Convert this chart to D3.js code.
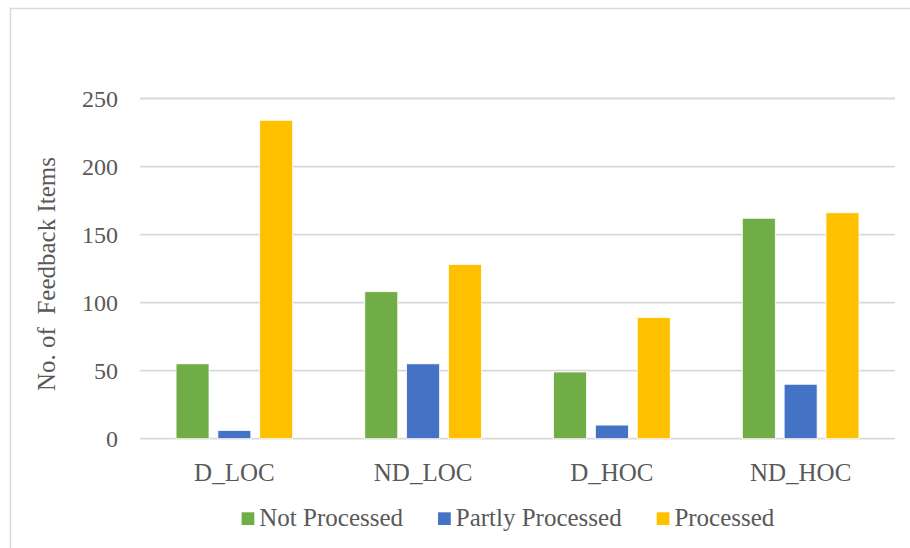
<!DOCTYPE html>
<html>
<head>
<meta charset="utf-8">
<script src="https://cdn.jsdelivr.net/npm/d3@7/dist/d3.min.js"></script>
<style>
  html, body { margin: 0; padding: 0; background: #fff; }
  svg { display: block; }
  text { font-family: "Liberation Serif", "Times New Roman", serif; fill: #595959; }
</style>
</head>
<body>
<svg id="chart" width="910" height="548"></svg>
<script>
// Feedback items per condition, split by processing status
const categories = ["D_LOC", "ND_LOC", "D_HOC", "ND_HOC"];
const seriesNames = ["Not Processed", "Partly Processed", "Processed"];
const notProcessed = [55, 108, 49, 162];
const partlyProcessed = [6, 55, 10, 40];
const processed = [234, 128, 89, 166];
const yTicks = [0, 50, 100, 150, 200, 250];
const colors = ["#70ad47", "#4472c4", "#ffc000"];

const seriesValues = [notProcessed, partlyProcessed, processed];
const FONT = "Liberation Serif, Times New Roman, serif";

const svg = d3.select("#chart");

// outer chart frame
svg.append("rect")
  .attr("x", 10.5).attr("y", 8.5)
  .attr("width", 920).attr("height", 560)
  .attr("fill", "#fff")
  .attr("stroke", "#d9d9d9").attr("stroke-width", 1.5);

const plot = { left: 140, right: 895, top: 98.5, bottom: 438.7 };

const y = d3.scaleLinear().domain([0, 250]).range([plot.bottom, plot.top]);
const x0 = d3.scaleBand().domain(categories).range([plot.left, plot.right]).padding(0);

// bar width follows a 219% gap width and -27% overlap
const step = x0.bandwidth();
const barW = step / (3 + 2 * 0.27 + 2.19);
const groupW = 3 * barW + 2 * 0.27 * barW;
const offset = (step - groupW) / 2;
const x1 = d3.scaleBand().domain(seriesNames)
  .range([offset, offset + groupW])
  .paddingInner(0.27 / 1.27).paddingOuter(0);

// gridlines
svg.append("g").selectAll("line")
  .data(yTicks)
  .join("line")
  .attr("x1", plot.left).attr("x2", plot.right)
  .attr("y1", d => y(d)).attr("y2", d => y(d))
  .attr("stroke", "#d9d9d9").attr("stroke-width", 1.8);

// y tick labels
svg.append("g").selectAll("text")
  .data(yTicks)
  .join("text")
  .attr("x", 118)
  .attr("y", d => y(d) + 8)
  .attr("text-anchor", "end")
  .attr("font-family", FONT)
  .attr("font-size", 24)
  .text(d => d);

// bars
const rows = [];
categories.forEach((c, i) => {
  seriesNames.forEach((s, j) => rows.push({ cat: c, series: s, value: seriesValues[j][i], color: colors[j] }));
});

svg.append("g").selectAll("rect")
  .data(rows)
  .join("rect")
  .attr("x", d => x0(d.cat) + x1(d.series))
  .attr("width", x1.bandwidth())
  .attr("y", d => y(d.value))
  .attr("height", d => y(0) - y(d.value))
  .attr("fill", d => d.color)
  .attr("stroke", "#fff").attr("stroke-width", 0.75);

// category labels
svg.append("g").selectAll("text")
  .data(categories)
  .join("text")
  .attr("x", d => x0(d) + step / 2)
  .attr("y", 481)
  .attr("text-anchor", "middle")
  .attr("font-family", FONT)
  .attr("font-size", 25)
  .text(d => d);

// y axis title
svg.append("text")
  .attr("transform", "translate(55,274) rotate(-90)")
  .attr("text-anchor", "middle")
  .attr("font-family", FONT)
  .attr("font-size", 25)
  .attr("xml:space", "preserve")
  .style("white-space", "pre")
  .text("No. of  Feedback Items");

// legend, centred below the plot
const legend = svg.append("g");
const items = legend.selectAll("g")
  .data(seriesNames)
  .join("g");
items.append("rect")
  .attr("width", 12.7).attr("height", 12.7)
  .attr("y", 512.3)
  .attr("fill", (d, i) => colors[i]);
items.append("text")
  .attr("y", 526)
  .attr("font-family", FONT)
  .attr("font-size", 25)
  .text(d => d);

const sq = 12.7, sqGap = 5, itemGap = 35;
let widths = [];
items.select("text").each(function () { widths.push(this.getComputedTextLength()); });
const total = d3.sum(widths) + seriesNames.length * (sq + sqGap) + itemGap * (seriesNames.length - 1);
let cx = 508 - total / 2;
items.each(function (d, i) {
  const g = d3.select(this);
  g.select("rect").attr("x", cx);
  g.select("text").attr("x", cx + sq + sqGap);
  cx += sq + sqGap + widths[i] + itemGap;
});
</script>
</body>
</html>
